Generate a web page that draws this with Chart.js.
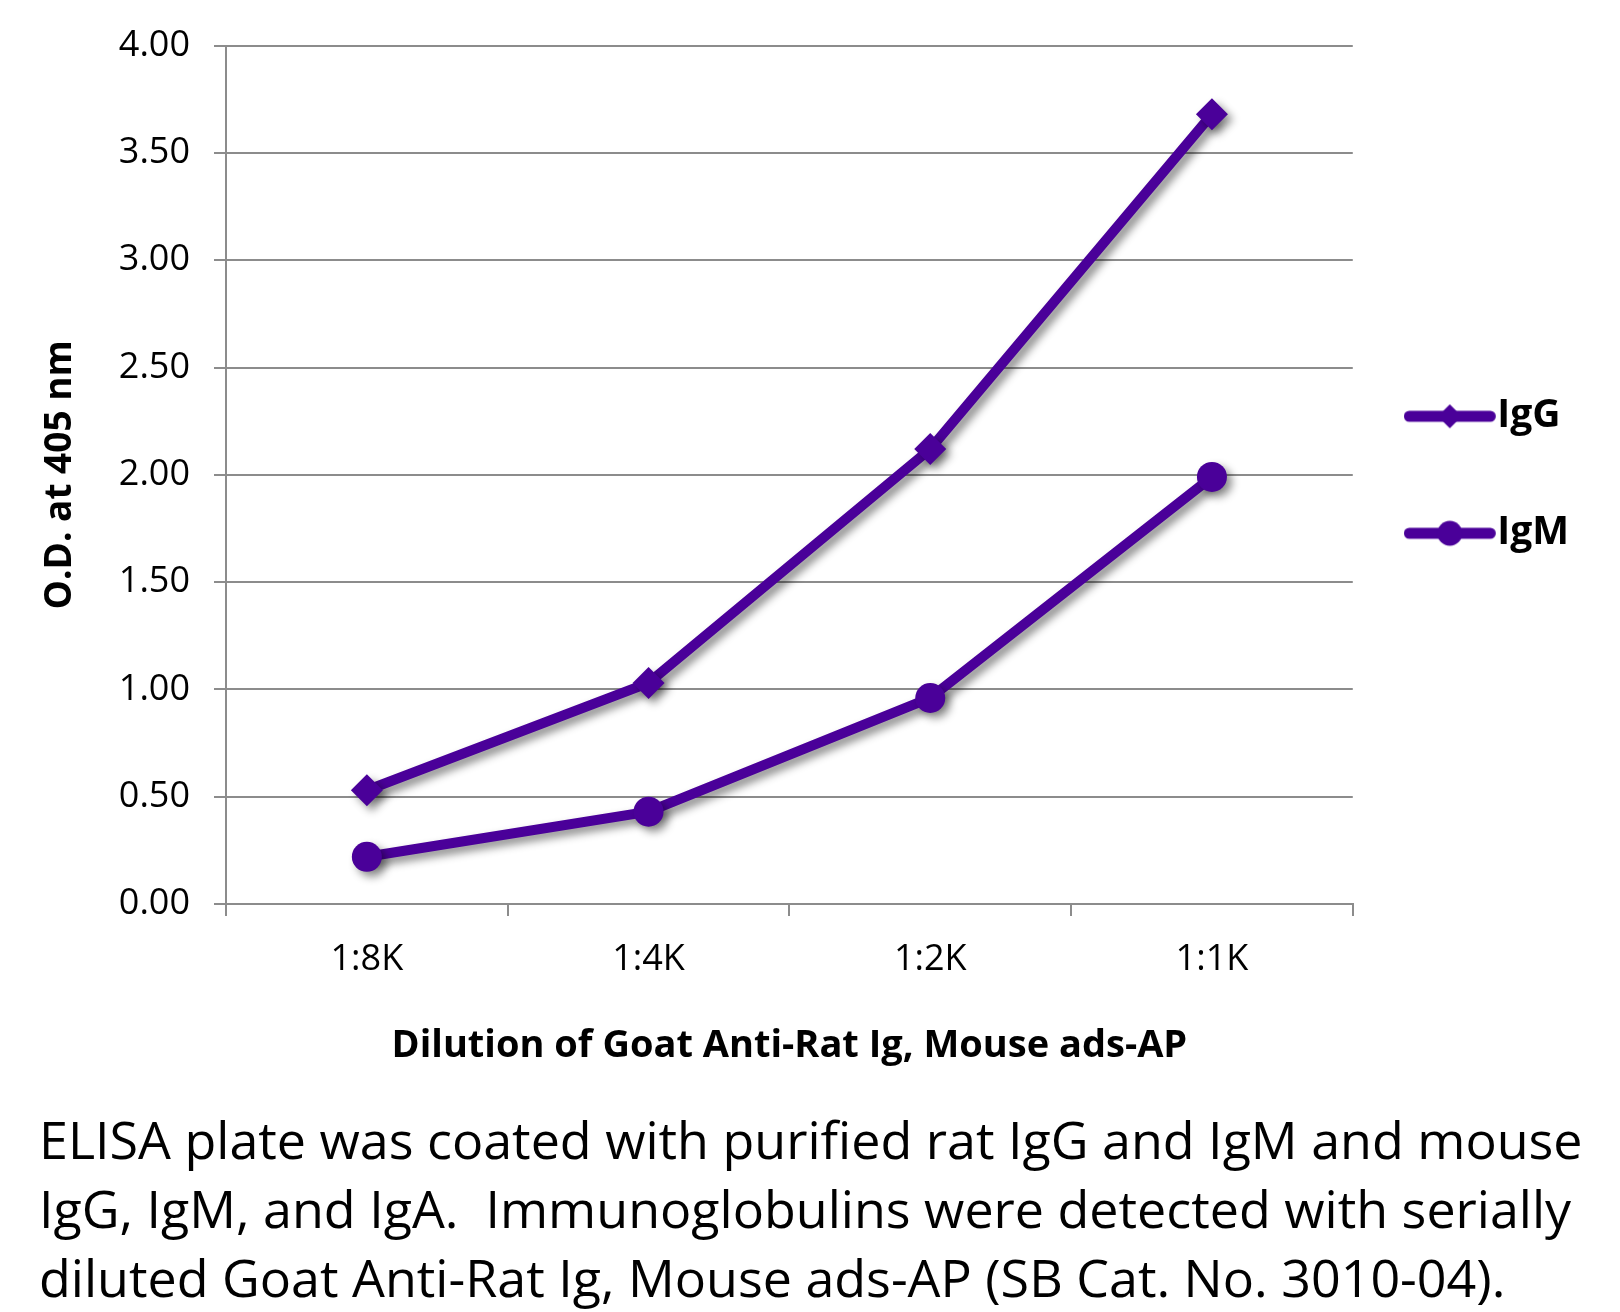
<!DOCTYPE html>
<html>
<head>
<meta charset="utf-8">
<title>ELISA – Goat Anti-Rat Ig, Mouse ads-AP</title>
<script src="https://cdn.jsdelivr.net/npm/chart.js@4.4.1/dist/chart.umd.min.js"></script>
<style>
  body { margin: 0; background: #fff; }
  #wrap { position: relative; width: 1620px; height: 1312px; overflow: hidden; }
  #chart { position: absolute; left: 0; top: 0; }
  .caption {
    position: absolute; left: 39px; top: 1104px;
    font-family: 'Open Sans', sans-serif; font-size: 52px; line-height: 69px;
    color: #000; white-space: nowrap;
  }
</style>
</head>
<body>
<div id="wrap">
  <canvas id="chart" width="1620" height="1090"></canvas>
  <div class="caption">
    ELISA plate was coated with purified rat IgG and IgM and mouse<br>
    IgG, IgM, and IgA.&nbsp; Immunoglobulins were detected with serially<br>
    diluted Goat Anti-Rat Ig, Mouse ads-AP (SB Cat. No. 3010-04).
  </div>
</div>

<script>
// data
const dilutions = ['1:8K', '1:4K', '1:2K', '1:1K'];
const igG = [0.53, 1.03, 2.12, 3.68];
const igM = [0.22, 0.43, 0.96, 1.99];
const yTicks = [0, 0.5, 1, 1.5, 2, 2.5, 3, 3.5, 4];

const PURPLE = '#4a0099';
const GRID = '#8c8c8c';

Chart.defaults.font.family = "'Open Sans', sans-serif";
Chart.defaults.color = '#000';

// legend swatch: thick line with the marker in the middle
function legendSwatch(shape) {
  const c = document.createElement('canvas');
  c.width = 101; c.height = 30;
  const g = c.getContext('2d');
  g.strokeStyle = PURPLE; g.fillStyle = PURPLE;
  g.lineWidth = 11; g.lineCap = 'round';
  g.beginPath(); g.moveTo(5.5, 15); g.lineTo(86.5, 15); g.stroke();
  g.beginPath();
  if (shape === 'diamond') {
    g.moveTo(46, 3); g.lineTo(58, 15); g.lineTo(46, 27); g.lineTo(34, 15);
    g.closePath();
  } else {
    g.arc(46, 15, 12.5, 0, Math.PI * 2);
  }
  g.fill();
  return c;
}
const swatches = [legendSwatch('diamond'), legendSwatch('circle')];

// soft drop shadow behind the series, like the original
const shadowPlugin = {
  id: 'shadow',
  beforeDatasetsDraw(chart) {
    const c = chart.ctx;
    c.save();
    c.shadowColor = 'rgba(0,0,0,0.45)';
    c.shadowBlur = 9;
    c.shadowOffsetX = 5;
    c.shadowOffsetY = 5;
  },
  afterDatasetsDraw(chart) { chart.ctx.restore(); }
};

new Chart(document.getElementById('chart'), {
  type: 'line',
  data: {
    labels: dilutions,
    datasets: [
      {
        label: 'IgG', data: igG,
        borderColor: PURPLE, backgroundColor: PURPLE, borderWidth: 10,
        pointStyle: 'rectRot', pointRadius: 16, pointHoverRadius: 16,
        pointBorderWidth: 0, tension: 0
      },
      {
        label: 'IgM', data: igM,
        borderColor: PURPLE, backgroundColor: PURPLE, borderWidth: 10,
        pointStyle: 'circle', pointRadius: 15, pointHoverRadius: 15,
        pointBorderWidth: 0, tension: 0
      }
    ]
  },
  options: {
    responsive: false,
    animation: false,
    layout: { padding: { top: 44, left: 0, right: 41, bottom: 0 } },
    plugins: {
      tooltip: { enabled: false },
      legend: {
        position: 'right',
        fullSize: false,
        labels: {
          usePointStyle: true,
          pointStyleWidth: 47,
          padding: 78,
          color: '#000',
          font: { size: 39, weight: 'bold' },
          generateLabels(chart) {
            return chart.data.datasets.map((ds, i) => ({
              text: ds.label,
              pointStyle: swatches[i],
              fillStyle: PURPLE,
              strokeStyle: PURPLE,
              lineWidth: 0,
              hidden: false,
              datasetIndex: i
            }));
          }
        }
      }
    },
    scales: {
      x: {
        offset: true,
        afterFit(s) { s.height = 186; },
        grid: { offset: true, drawOnChartArea: false, color: GRID, lineWidth: 2, tickLength: 12 },
        border: { color: GRID, width: 2 },
        ticks: { font: { size: 36 }, padding: 22, color: '#000' },
        title: {
          display: true,
          text: 'Dilution of Goat Anti-Rat Ig, Mouse ads-AP',
          font: { size: 38, weight: 'bold' },
          padding: { bottom: 21 },
          color: '#000'
        }
      },
      y: {
        min: 0, max: 4,
        afterFit(s) { s.width = 226; },
        afterBuildTicks(s) { s.ticks = yTicks.map(v => ({ value: v })); },
        grid: { color: GRID, lineWidth: 2, tickLength: 12 },
        border: { color: GRID, width: 2 },
        ticks: {
          font: { size: 36 }, padding: 24, color: '#000',
          callback: v => Number(v).toFixed(2)
        },
        title: {
          display: true,
          text: 'O.D. at 405 nm',
          font: { size: 37, weight: 'bold' },
          padding: { top: 38 },
          color: '#000'
        }
      }
    }
  },
  plugins: [shadowPlugin]
});
</script>
</body>
</html>
